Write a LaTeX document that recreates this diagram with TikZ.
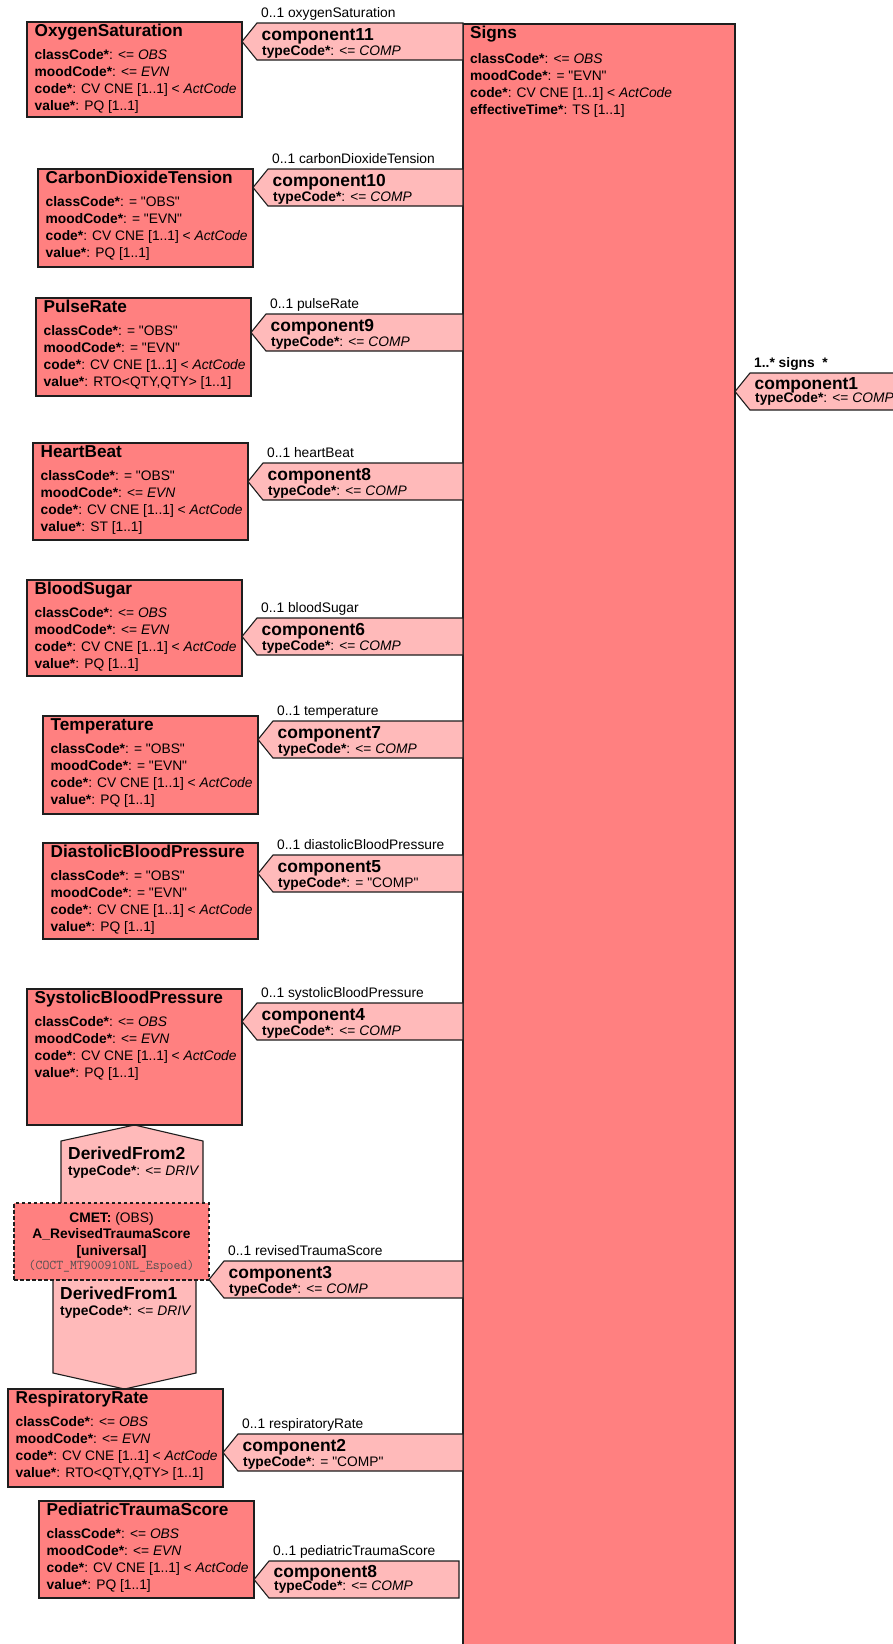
\documentclass[tikz,border=0pt]{standalone}
\usepackage{fontspec}
\setmainfont{Liberation Sans}[Ligatures=TeXOff]
\usetikzlibrary{calc}

\definecolor{clsfill}{RGB}{255,128,128}
\definecolor{assocfill}{RGB}{255,186,186}
\definecolor{edgecol}{RGB}{30,30,30}
\definecolor{idgray}{RGB}{80,80,80}

\tikzset{
  clsbox/.style={draw=edgecol, fill=clsfill, line width=1.1pt, inner sep=0pt, outer sep=0pt, anchor=north west},
  cmetbox/.style={clsbox, dashed, dash pattern=on 3.5pt off 2.5pt},
  clstitle/.style={font=\fontsize{17.2}{20}\selectfont\bfseries, inner sep=0pt, anchor=base west},
  attrtext/.style={font=\fontsize{13.8}{17.3}\selectfont, inner sep=0pt, anchor=base west},
  assocshape/.style={draw=edgecol, fill=assocfill, line width=1.1pt, line join=miter},
  assocfillonly/.style={fill=assocfill},
  roletext/.style={font=\fontsize{13.8}{16}\selectfont, inner sep=0pt, anchor=base west},
  compname/.style={font=\fontsize{17.4}{20}\selectfont\bfseries, inner sep=0pt, anchor=base west},
  cmettext/.style={font=\fontsize{13.8}{16}\selectfont, inner sep=0pt, anchor=base},
  cmetid/.style={font=\fontsize{13.4}{15}\selectfont\ttfamily, text=idgray, inner sep=0pt, anchor=base},
}

% class box: name, x, y, width, height, title, attribute lines
\newcommand\classbox[7]{%
  \node[clsbox, minimum width=#4pt, minimum height=#5pt] (#1) at (#2,#3) {};
  \node[clstitle] (#1-title) at ([xshift=7.5pt,yshift=-14pt]#1.north west) {#6};
  \node[attrtext] (#1-attrs) at ([xshift=7.5pt,yshift=-37pt]#1.north west) {\parbox[t]{205pt}{#7}};
}

% association pointing left at class #1: name, right end, top y,
% role label, component name, type code, type line offset, name line offset
\newcommand\assoc[9]{%
  \coordinate (#2-top) at (#1.east |- 0,#4);
  \filldraw[assocshape] ($(#2-top)+(0,18.5)$) -- ($(#2-top)+(15,0)$)
     -- (#3 |- #2-top) -- ($(#3 |- #2-top)+(0,37)$)
     -- ($(#2-top)+(15,37)$) -- cycle;
  \node[roletext] (#2-role) at ($(#2-top)+(19,-6)$) {#5};
  \node[compname] (#2) at ($(#2-top)+(19.5,#9)$) {#6};
  \node[roletext] (#2-type) at ($(#2-top)+(20,#8)$) {\textbf{typeCode*}: #7};
}

\newcommand\codeline{\textbf{code*}: CV CNE [1..1] < \textit{ActCode}}

\begin{document}
\begin{tikzpicture}[x=1pt,y=-1pt]
\useasboundingbox (0,0) rectangle (892,1644);
\fill[white] (0,0) rectangle (892,1644);

% central act
\node[clsbox, minimum width=272pt, minimum height=1640pt] (signs) at (463,24) {};
\node[clstitle] (signs-title) at ([xshift=7pt,yshift=-14pt]signs.north west) {Signs};
\node[attrtext] (signs-attrs) at ([xshift=7pt,yshift=-39pt]signs.north west) {\parbox[t]{250pt}{%
  \textbf{classCode*}: <= \textit{OBS}\\
  \textbf{moodCode*}: = "EVN"\\
  \codeline\\
  \textbf{effectiveTime*}: TS [1..1]}};

% derivation links around the CMET
\fill[assocfillonly] (61,1205) -- (61,1141) -- (134.5,1125) -- (203,1141) -- (203,1205) -- cycle;
\draw[edgecol, line width=1.1pt] (61,1203) -- (61,1141) -- (134.5,1125) -- (203,1141) -- (203,1203);
\fill[assocfillonly] (53,1278) -- (53,1373) -- (124.5,1389) -- (196,1373) -- (196,1278) -- cycle;
\draw[edgecol, line width=1.1pt] (53,1280) -- (53,1373) -- (124.5,1389) -- (196,1373) -- (196,1280);
\node[compname] (df2) at (68,1159) {DerivedFrom2};
\node[roletext] (df2-type) at (68,1175) {\textbf{typeCode*}: <= \textit{DRIV}};
\node[compname] (df1) at (60,1299) {DerivedFrom1};
\node[roletext] (df1-type) at (60,1315) {\textbf{typeCode*}: <= \textit{DRIV}};

% observation classes
\classbox{oxy}{27}{22}{215}{95}{OxygenSaturation}{%
  \textbf{classCode*}: <= \textit{OBS}\\ \textbf{moodCode*}: <= \textit{EVN}\\ \codeline\\ \textbf{value*}: PQ [1..1]}
\classbox{co2}{38}{169}{215}{98}{CarbonDioxideTension}{%
  \textbf{classCode*}: = "OBS"\\ \textbf{moodCode*}: = "EVN"\\ \codeline\\ \textbf{value*}: PQ [1..1]}
\classbox{pulse}{36}{298}{215}{98}{PulseRate}{%
  \textbf{classCode*}: = "OBS"\\ \textbf{moodCode*}: = "EVN"\\ \codeline\\ \textbf{value*}: RTO<QTY,QTY> [1..1]}
\classbox{heart}{33}{443}{215}{97}{HeartBeat}{%
  \textbf{classCode*}: = "OBS"\\ \textbf{moodCode*}: <= \textit{EVN}\\ \codeline\\ \textbf{value*}: ST [1..1]}
\classbox{sugar}{27}{580}{215}{96}{BloodSugar}{%
  \textbf{classCode*}: <= \textit{OBS}\\ \textbf{moodCode*}: <= \textit{EVN}\\ \codeline\\ \textbf{value*}: PQ [1..1]}
\classbox{temp}{43}{716}{215}{98}{Temperature}{%
  \textbf{classCode*}: = "OBS"\\ \textbf{moodCode*}: = "EVN"\\ \codeline\\ \textbf{value*}: PQ [1..1]}
\classbox{dia}{43}{843}{215}{96}{DiastolicBloodPressure}{%
  \textbf{classCode*}: = "OBS"\\ \textbf{moodCode*}: = "EVN"\\ \codeline\\ \textbf{value*}: PQ [1..1]}
\classbox{sys}{27}{989}{215}{136}{SystolicBloodPressure}{%
  \textbf{classCode*}: <= \textit{OBS}\\ \textbf{moodCode*}: <= \textit{EVN}\\ \codeline\\ \textbf{value*}: PQ [1..1]}
\classbox{resp}{8}{1389}{215}{98}{RespiratoryRate}{%
  \textbf{classCode*}: <= \textit{OBS}\\ \textbf{moodCode*}: <= \textit{EVN}\\ \codeline\\ \textbf{value*}: RTO<QTY,QTY> [1..1]}
\classbox{ped}{39}{1501}{215}{97}{PediatricTraumaScore}{%
  \textbf{classCode*}: <= \textit{OBS}\\ \textbf{moodCode*}: <= \textit{EVN}\\ \codeline\\ \textbf{value*}: PQ [1..1]}

% CMET reference
\node[cmetbox, minimum width=195pt, minimum height=77pt] (cmet) at (14,1203) {};
\node[cmettext] (cmet-l1) at (111.5,1222) {\textbf{CMET:} (OBS)};
\node[cmettext] (cmet-l2) at (111.5,1238) {\textbf{A\_RevisedTraumaScore}};
\node[cmettext] (cmet-l3) at (111.5,1255) {\textbf{[universal]}};
\node[cmetid] (cmet-l4) at (111.5,1269) {(COCT\_MT900910NL\_Espoed)};

% component associations
\coordinate (pedend) at (459,0);
\coordinate (offpage) at (905,0);
\assoc{oxy}{comp11}{signs.west}{23}{0..1 oxygenSaturation}{component11}{<= \textit{COMP}}{32}{17}
\assoc{co2}{comp10}{signs.west}{169}{0..1 carbonDioxideTension}{component10}{<= \textit{COMP}}{32}{17}
\assoc{pulse}{comp9}{signs.west}{314}{0..1 pulseRate}{component9}{<= \textit{COMP}}{32}{17}
\assoc{heart}{comp8a}{signs.west}{463}{0..1 heartBeat}{component8}{<= \textit{COMP}}{32}{17}
\assoc{sugar}{comp6}{signs.west}{618}{0..1 bloodSugar}{component6}{<= \textit{COMP}}{32}{17}
\assoc{temp}{comp7}{signs.west}{721}{0..1 temperature}{component7}{<= \textit{COMP}}{32}{17}
\assoc{dia}{comp5}{signs.west}{855}{0..1 diastolicBloodPressure}{component5}{= "COMP"}{32}{17}
\assoc{sys}{comp4}{signs.west}{1003}{0..1 systolicBloodPressure}{component4}{<= \textit{COMP}}{32}{17}
\assoc{cmet}{comp3}{signs.west}{1261}{0..1 revisedTraumaScore}{component3}{<= \textit{COMP}}{32}{17}
\assoc{resp}{comp2}{signs.west}{1434}{0..1 respiratoryRate}{component2}{= "COMP"}{32}{17}
\assoc{ped}{comp8b}{pedend}{1561}{0..1 pediatricTraumaScore}{component8}{<= \textit{COMP}}{29}{16}
\assoc{signs}{comp1}{offpage}{373}{\textbf{1..* signs\ \ *}}{component1}{<= \textit{COMP}}{29}{16}
\end{tikzpicture}
\end{document}
